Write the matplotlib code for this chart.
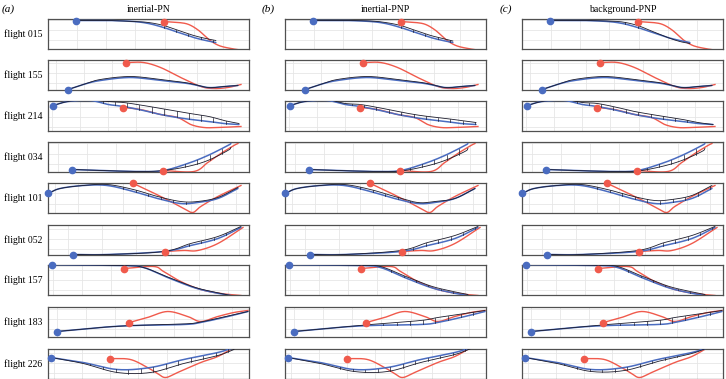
import numpy as np
import matplotlib
matplotlib.use("Agg")
import matplotlib.pyplot as plt

plt.rcParams['font.family'] = ['Liberation Serif', 'DejaVu Serif']

# flights (rows) and methods (columns)
flights = ['015', '155', '214', '034', '101', '052', '157', '183', '226']
methods = ['inertial-PN', 'inertial-PNP', 'background-PNP']
panel_tags = ['(a)', '(b)', '(c)']

# observed pursuer (blue) knots, panel units: x 0-200, y 0-29.5
pursuer = {
    '015': [(28, 28), (60, 28), (85, 27), (100, 25), (115, 21), (130, 16), (145, 11), (157, 8), (167, 6)],
    '155': [(20, 0), (35, 5), (52, 9), (82, 12), (112, 9), (139, 6), (159, 2), (175, 3), (189, 4)],
    '214': [(5, 25), (20, 29), (42, 30), (60, 26), (75, 24), (95, 20), (112, 16), (135, 12), (160, 9), (175, 7), (190, 6)],
    '034': [(24, 2), (52, 1), (92, 0), (115, 1), (139, 8), (159, 16), (179, 26), (182, 28)],
    '101': [(0, 19), (12, 24), (35, 27), (59, 27), (85, 21), (109, 14), (132, 9), (149, 10), (169, 14), (189, 24)],
    '052': [(25, 0), (59, 0), (115, 3), (142, 9), (169, 16), (192, 27)],
    '157': [(4, 30), (75, 29), (95, 27), (119, 17), (145, 7), (165, 2), (182, -1)],
    '183': [(9, 5), (52, 9), (85, 11), (135, 12), (152, 14), (179, 20), (199, 25)],
    '226': [(3, 21), (35, 16), (69, 9), (102, 11), (135, 19), (169, 26), (185, 31)],
}

# observed target (red) knots
target = {
    '015': [(115, 27), (130, 26), (140, 24), (150, 18), (160, 9), (170, 3), (182, 0), (195, -2)],
    '155': [(78, 27), (95, 27), (112, 22), (132, 12), (152, 3), (165, 1), (179, 2), (192, 5)],
    '214': [(75, 23), (92, 21), (112, 16), (129, 13), (142, 6), (155, 3), (169, 3), (192, 4)],
    '034': [(114, 1), (145, 0), (159, 9), (172, 18), (185, 26), (189, 28)],
    '101': [(85, 29), (102, 21), (122, 11), (135, 4), (144, 0), (152, 6), (169, 16), (192, 27)],
    '052': [(116, 3), (135, 4), (149, 4), (169, 11), (194, 27)],
    '157': [(76, 26), (105, 28), (115, 23), (132, 13), (152, 5), (172, 1), (192, -1)],
    '183': [(81, 14), (99, 19), (119, 25), (139, 20), (152, 15), (169, 20), (185, 24), (199, 26)],
    '226': [(62, 20), (82, 19), (99, 11), (109, 5), (117, 1), (129, 6), (152, 16), (169, 22), (185, 31)],
}

# simulated pursuer (black) offset from observed, per method, at the pursuer knots
sim_offset = {
    'inertial-PN': {
        '015': [0, 0, 0, 1, 2, 2, 2, 2, 2],
        '155': [0, 0, 1, 1, 1, 0.5, 0, 0, 0],
        '214': [0, 0, 1, 3, 4, 5, 6, 6, 5, 3, 1],
        '034': [0, 0, 0, 0, -3, -5, -5, -4],
        '101': [0, 0, 0, 1, 2, 2, 2, 1, 1, 1],
        '052': [0, 0, 0, 2, 2, 1],
        '157': [0, 0, 0, 0.5, 0.5, 0.5, 0],
        '183': [0, 0, 0, 0.5, 0.5, 0.5, 0],
        '226': [0, -1, -3, -5, -4, -3, -2],
    },
    'inertial-PNP': {
        '015': [0, 0, 0.5, 1, 2, 2, 2, 2, 1.5],
        '155': [0, 0, 1, 1, 1, 0.5, 0, 0, 0],
        '214': [0, 0, 0.5, 1, 2, 2.5, 3, 3, 3, 3, 2],
        '034': [0, 0, 0, -0.5, -3, -5, -6, -5],
        '101': [0, 0, 0, 1, 2, 2, 1, 1, 0, 0],
        '052': [0, 0, 1, 3, 3, 1],
        '157': [0, 0, 1, 1.5, 1.5, 1.5, 1],
        '183': [0, 0, 1, 4, 5, 3, 1],
        '226': [0, -1, -2, -4, -3, -2, -1],
    },
    'background-PNP': {
        '015': [0, 0, 0.5, 1.5, 2, 1, 0, -1, -1],
        '155': [0, 0, 1, 1, 1, 0.5, 0, 0, 0],
        '214': [0, 0, 1, 2, 3, 3, 3, 3, 2, 1, 0],
        '034': [0, 0, 0, -0.5, -3, -5, -6, -5],
        '101': [0, 0, 0, 1, 2, 2.5, 3, 3, 3, 3],
        '052': [0, 0, 1, 3, 3, 1],
        '157': [0, 0, 1, 1.5, 1.5, 1.5, 1],
        '183': [0, 0, 1, 4, 5, 3, 1],
        '226': [0, -1, -2, -3, -2, -1, 0],
    },
}

# grid spacing per flight (x step, x phase, y step, y phase)
grid_spec = {
    '015': (29, 0, 10, 9), '155': (28, 8, 10, 7), '214': (28, 4, 10, 4),
    '034': (29, 10, 10, 8), '101': (22.5, 7, 10, 9), '052': (34, 20, 10, 6),
    '157': (29, 5, 10, 5), '183': (29, 9, 10, 8), '226': (28, 6, 10, 6),
}

BLUE = '#4a6cc0'
RED = '#f05a4c'
SIM = '#1c1c2c'


def smooth(pts, n=24):
    # Catmull-Rom through the knots, only for drawing
    p = np.asarray(pts, dtype=float)
    if len(p) < 3:
        return p
    ext = np.vstack([2 * p[0] - p[1], p, 2 * p[-1] - p[-2]])
    out = []
    t = np.linspace(0, 1, n, endpoint=False)[:, None]
    for i in range(1, len(ext) - 2):
        p0, p1, p2, p3 = ext[i - 1], ext[i], ext[i + 1], ext[i + 2]
        seg = 0.5 * ((2 * p1) + (-p0 + p2) * t + (2 * p0 - 5 * p1 + 4 * p2 - p3) * t ** 2
                     + (-p0 + 3 * p1 - 3 * p2 + p3) * t ** 3)
        out.append(seg)
    out.append(p[-1:])
    return np.vstack(out)


W, H = 726, 379
fig = plt.figure(figsize=(W / 100, H / 100), dpi=100)

col_left = [48, 285, 522]
col_w = 201
tag_x = [2, 262, 500]
row_top = [19, 60, 101, 142, 183, 225, 265, 307, 349]
row_h = 29.5

for ci, method in enumerate(methods):
    for ri, fl in enumerate(flights):
        ax = fig.add_axes([col_left[ci] / W, 1 - (row_top[ri] + row_h) / H, col_w / W, row_h / H])
        ax.set_xlim(0, 200)
        ax.set_ylim(0, 29.5)
        xs, xp, ys, yp = grid_spec[fl]
        for gx in np.arange(xp, 200, xs):
            ax.axvline(gx, color='#e6e6e6', lw=0.6, zorder=0)
        for gy in np.arange(yp, 29.5, ys):
            ax.axhline(gy, color='#e6e6e6', lw=0.6, zorder=0)
        ax.set_xticks([])
        ax.set_yticks([])
        for s in ax.spines.values():
            s.set_color('#505050')
            s.set_linewidth(0.9)

        pk = np.asarray(pursuer[fl], dtype=float)
        off = np.asarray(sim_offset[method][fl], dtype=float)
        sk = pk.copy()
        sk[:, 1] += off
        bc = smooth(pk)
        sc = smooth(sk)
        tc = smooth(target[fl])

        ax.plot(bc[:, 0], bc[:, 1], color=BLUE, lw=1.1, zorder=3, solid_capstyle='round')
        ax.plot(sc[:, 0], sc[:, 1], color=SIM, lw=0.6, zorder=4)
        # connectors between observed and simulated positions, about every 12 px
        last_x = -1e9
        for k in range(len(bc)):
            if bc[k, 0] - last_x >= 12:
                last_x = bc[k, 0]
                if abs(sc[k, 1] - bc[k, 1]) > 1.2:
                    ax.plot([bc[k, 0], sc[k, 0]], [bc[k, 1], sc[k, 1]], color=SIM, lw=0.5, zorder=4)
        ax.plot(tc[:, 0], tc[:, 1], color=RED, lw=1.0, zorder=2)

        ax.plot(pk[0, 0], pk[0, 1], 'o', color=BLUE, ms=4.5, zorder=6, clip_on=False)
        tk = target[fl][0]
        ax.plot(tk[0], tk[1], 'o', color=RED, ms=4.5, zorder=6, clip_on=False)

        if ci == 0:
            fig.text(42 / W, 1 - (row_top[ri] + row_h / 2) / H, 'flight ' + fl,
                     ha='right', va='center', fontsize=7)

    fig.text((col_left[ci] + col_w / 2) / W, 1 - 9 / H, method, ha='center', va='center', fontsize=7)
    fig.text(tag_x[ci] / W, 1 - 9 / H, panel_tags[ci], ha='left', va='center',
             fontsize=8, style='italic')

fig.savefig('out.png', dpi=100)
